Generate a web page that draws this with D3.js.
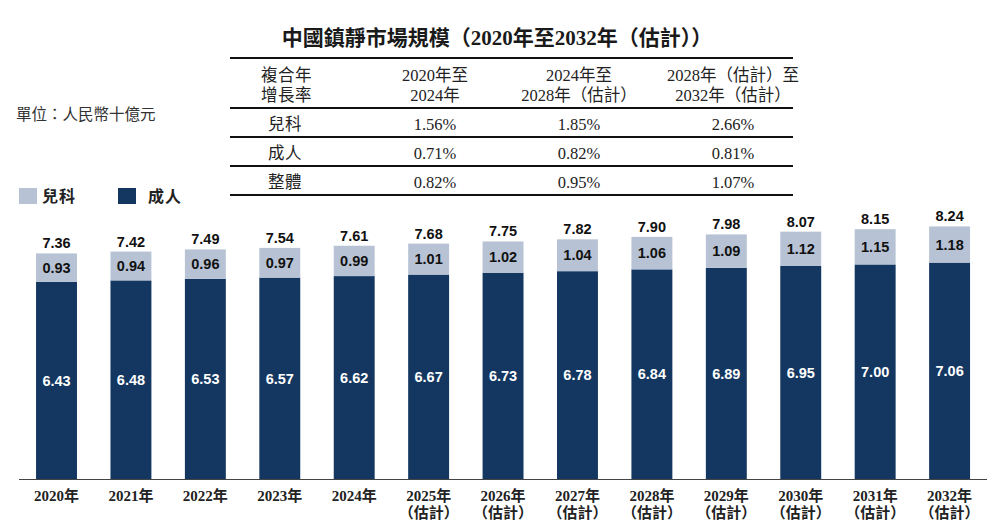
<!DOCTYPE html>
<html>
<head>
<meta charset="utf-8">
<script src="https://cdn.jsdelivr.net/npm/d3@7/dist/d3.min.js"></script>
<style>
  html, body { margin: 0; padding: 0; background: #fff; }
  svg { display: block; }
</style>
</head>
<body>
<svg id="chart" width="993" height="528"></svg>
<script>
// ---- data ----
const years = ["2020年","2021年","2022年","2023年","2024年","2025年","2026年","2027年","2028年","2029年","2030年","2031年","2032年"];
const estimated = [false,false,false,false,false,true,true,true,true,true,true,true,true];
const kids = [0.93,0.94,0.96,0.97,0.99,1.01,1.02,1.04,1.06,1.09,1.12,1.15,1.18];
const adults = [6.43,6.48,6.53,6.57,6.62,6.67,6.73,6.78,6.84,6.89,6.95,7.00,7.06];
const totals = [7.36,7.42,7.49,7.54,7.61,7.68,7.75,7.82,7.90,7.98,8.07,8.15,8.24];
const seriesNames = ["兒科","成人"];

const tableHeader = [["複合年","增長率"],["2020年至","2024年"],["2024年至","2028年（估計）"],["2028年（估計）至","2032年（估計）"]];
const tableRowNames = ["兒科","成人","整體"];
const tableValues = [["1.56%","1.85%","2.66%"],["0.71%","0.82%","0.81%"],["0.82%","0.95%","1.07%"]];

const titleText = "中國鎮靜市場規模（2020年至2032年（估計））";
const unitText = "單位：人民幣十億元";

// ---- styling ----
const colorKids = "#b7c3d4";
const colorAdults = "#133761";
const serif = "'Liberation Serif','Noto Sans CJK TC',serif";
const sans = "'Liberation Sans',Arial,sans-serif";
const tfs = 16.5;

const svg = d3.select("#chart");

// title
svg.append("text").attr("x", 497).attr("y", 45).attr("text-anchor","middle")
  .attr("font-family", serif).attr("font-weight","bold").attr("font-size", 21)
  .attr("fill","#1a1a1a").text(titleText);

// unit
svg.append("text").attr("x", 16).attr("y", 120)
  .attr("font-family", serif).attr("font-size", 15.5).attr("fill","#333").text(unitText);

// table
const tbl = svg.append("g");
const tX0 = 230, tX1 = 793;
const lineYs = [58, 108, 137, 166, 195];
lineYs.forEach(y => tbl.append("line").attr("x1",tX0).attr("x2",tX1).attr("y1",y).attr("y2",y)
  .attr("stroke","#111").attr("stroke-width",2));
const colX = [null, 435, 579, 733];
// header
tbl.append("text").attr("x",261).attr("y",81).attr("font-family",serif).attr("font-size",tfs)
  .attr("fill","#222").attr("letter-spacing",0.5).text(tableHeader[0][0]);
tbl.append("text").attr("x",261).attr("y",101).attr("font-family",serif).attr("font-size",tfs)
  .attr("fill","#222").attr("letter-spacing",0.5).text(tableHeader[0][1]);
for (let c = 1; c < 4; c++) {
  tbl.append("text").attr("x",colX[c]).attr("y",81).attr("text-anchor","middle")
    .attr("font-family",serif).attr("font-size",tfs).attr("fill","#222").text(tableHeader[c][0]);
  tbl.append("text").attr("x",colX[c]).attr("y",101).attr("text-anchor","middle")
    .attr("font-family",serif).attr("font-size",tfs).attr("fill","#222").text(tableHeader[c][1]);
}
const rowY = [130, 159, 188];
tableRowNames.forEach((n,i) => {
  tbl.append("text").attr("x",285).attr("y",rowY[i]).attr("text-anchor","middle")
    .attr("font-family",serif).attr("font-size",tfs).attr("fill","#222").attr("letter-spacing",0.5).text(n);
  tableValues[i].forEach((v,j) => {
    tbl.append("text").attr("x",colX[j+1]).attr("y",rowY[i]).attr("text-anchor","middle")
      .attr("font-family",serif).attr("font-size",tfs).attr("fill","#222").text(v);
  });
});

// legend
const leg = svg.append("g");
const legItems = [{x:19, c:colorKids, tx:42}, {x:118, c:colorAdults, tx:148}];
legItems.forEach((it,i) => {
  leg.append("rect").attr("x",it.x).attr("y",188).attr("width",18).attr("height",16).attr("fill",it.c);
  leg.append("text").attr("x",it.tx).attr("y",202).attr("font-family",serif).attr("font-weight","bold")
    .attr("font-size",16).attr("fill","#222").attr("letter-spacing",1).text(seriesNames[i]);
});

// scales
const x = d3.scaleBand().domain(years).range([19.3, 986.8]).paddingInner(0.45).paddingOuter(0.225);
const y = d3.scaleLinear().domain([0, 10]).range([479, 172.5]);

const bars = svg.append("g");
years.forEach((yr,i) => {
  const bx = x(yr), bw = x.bandwidth();
  bars.append("rect").attr("x",bx).attr("width",bw)
    .attr("y",y(adults[i])).attr("height",y(0)-y(adults[i])).attr("fill",colorAdults);
  bars.append("rect").attr("x",bx).attr("width",bw)
    .attr("y",y(adults[i]+kids[i])).attr("height",y(adults[i])-y(adults[i]+kids[i])).attr("fill",colorKids);
  const cx = bx + bw/2;
  bars.append("text").attr("x",cx).attr("y",(y(0)+y(adults[i]))/2).attr("dy","0.36em")
    .attr("text-anchor","middle").attr("font-family",sans).attr("font-weight","bold")
    .attr("font-size",14.5).attr("fill","#fff").text(adults[i].toFixed(2));
  bars.append("text").attr("x",cx).attr("y",(y(adults[i])+y(adults[i]+kids[i]))/2).attr("dy","0.36em")
    .attr("text-anchor","middle").attr("font-family",sans).attr("font-weight","bold")
    .attr("font-size",14.5).attr("fill","#111").text(kids[i].toFixed(2));
  bars.append("text").attr("x",cx).attr("y",y(adults[i]+kids[i]) - 5)
    .attr("text-anchor","middle").attr("font-family",sans).attr("font-weight","bold")
    .attr("font-size",14.5).attr("fill","#111").text(totals[i].toFixed(2));
});

// x axis
const xAxis = d3.axisBottom(x).tickSize(0).tickPadding(0).tickFormat(() => "");
const ax = svg.append("g").attr("transform","translate(0,479.5)").call(xAxis);
ax.select(".domain").attr("d","M19,0H987").attr("stroke","#444").attr("stroke-width",1.2);
ax.selectAll(".tick").each(function(d,i) {
  const g = d3.select(this);
  g.select("text").remove();
  const t = g.append("text").attr("text-anchor","middle").attr("font-family",serif)
    .attr("font-weight","bold").attr("font-size",15).attr("fill","#222");
  t.append("tspan").attr("x",0).attr("y",21).text(d);
  if (estimated[i]) t.append("tspan").attr("x",0).attr("y",38).text("（估計）");
});
</script>
</body>
</html>
